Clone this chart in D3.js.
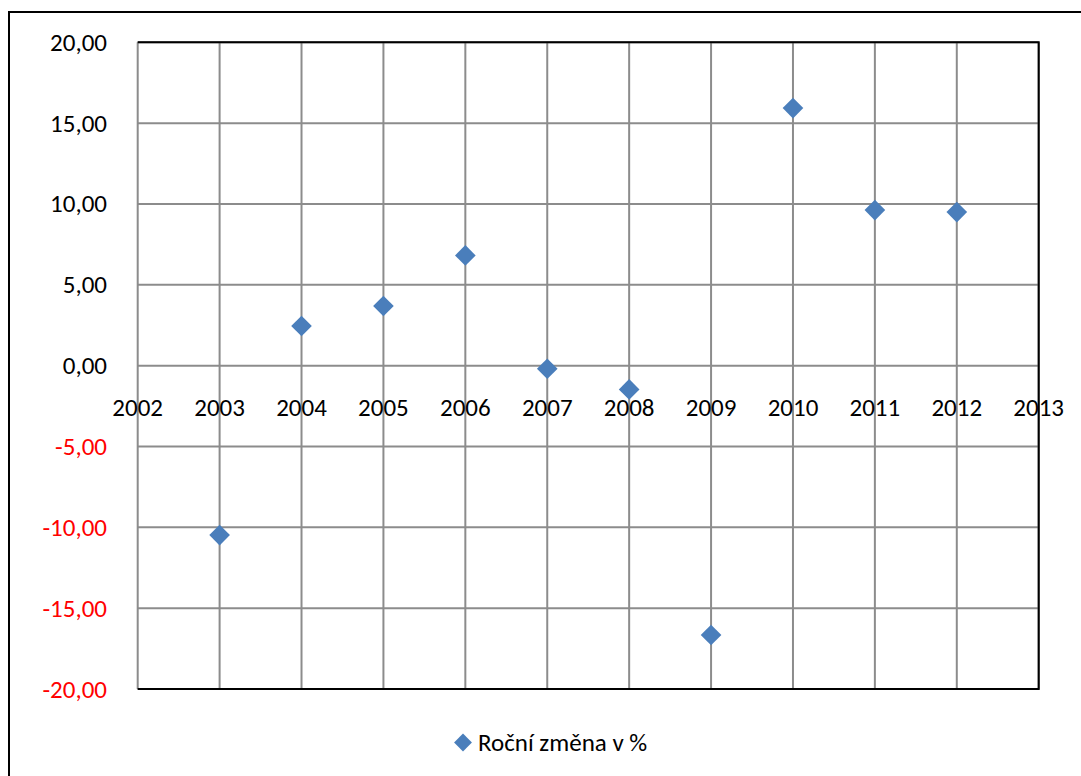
<!DOCTYPE html>
<html>
<head>
<meta charset="utf-8">
<script src="https://cdn.jsdelivr.net/npm/d3@7"></script>
<style>
  html, body { margin: 0; padding: 0; background: #fff; }
  svg { display: block; font-family: Carlito, Calibri, Lato, "Open Sans", sans-serif; }
</style>
</head>
<body>
<svg id="chart" width="1081" height="776"></svg>
<script>
// Annual change in percent, by year
const years = [2003, 2004, 2005, 2006, 2007, 2008, 2009, 2010, 2011, 2012];
const values = [-10.48, 2.45, 3.69, 6.82, -0.19, -1.47, -16.66, 15.93, 9.62, 9.50];
const xTicks = [2002, 2003, 2004, 2005, 2006, 2007, 2008, 2009, 2010, 2011, 2012, 2013];
const yTicks = [-20, -15, -10, -5, 0, 5, 10, 15, 20];
const seriesName = "Roční změna v %";

const svg = d3.select("#chart");
const plotL = 137.7, plotR = 1038.7, plotT = 42.3, plotB = 689;
const fontSize = 25;

const x = d3.scaleLinear().domain([2002, 2013]).range([plotL, plotR]);
const y = d3.scaleLinear().domain([-20, 20]).range([plotB, plotT]);
const fmt = v => d3.format(".2f")(v).replace(".", ",").replace("−", "-");

// outer frame
svg.append("rect")
  .attr("x", 9).attr("y", 12).attr("width", 1100).attr("height", 800)
  .attr("fill", "none").attr("stroke", "#000").attr("stroke-width", 2);

// grid
const grid = svg.append("g").attr("stroke", "#8c8c8c").attr("stroke-width", 2);
grid.selectAll("line.h").data(yTicks).join("line").attr("class", "h")
  .attr("x1", plotL).attr("x2", plotR)
  .attr("y1", d => y(d)).attr("y2", d => y(d));
grid.selectAll("line.v").data(xTicks).join("line").attr("class", "v")
  .attr("y1", plotT).attr("y2", plotB)
  .attr("x1", d => x(d)).attr("x2", d => x(d));

// plot border (top, right, bottom)
svg.append("path")
  .attr("d", `M${plotL},${plotT}H${plotR}V${plotB}H${plotL}`)
  .attr("fill", "none").attr("stroke", "#000").attr("stroke-width", 2);

// y tick labels
svg.append("g").selectAll("text").data(yTicks).join("text")
  .attr("x", 107).attr("y", d => y(d) + 8.5)
  .attr("text-anchor", "end")
  .attr("font-size", fontSize)
  .attr("fill", d => d < 0 ? "#ff0000" : "#000")
  .text(fmt);

// x tick labels, drawn just below the zero line
svg.append("g").selectAll("text").data(xTicks).join("text")
  .attr("x", d => x(d)).attr("y", y(0) + 50.5)
  .attr("text-anchor", "middle")
  .attr("font-size", fontSize)
  .attr("fill", "#000")
  .text(d => d);

// markers: diamonds (rotated squares)
const marks = svg.append("g");
marks.selectAll("rect").data(years.map((yr, i) => ({ yr, v: values[i] }))).join("rect")
  .attr("x", -7.3).attr("y", -7.3).attr("width", 14.6).attr("height", 14.6)
  .attr("transform", d => `translate(${x(d.yr)},${y(d.v)}) rotate(45)`)
  .attr("fill", "#4a7ebb");

// legend
const lg = svg.append("g").attr("transform", "translate(463,742.5)");
lg.append("rect")
  .attr("x", -6.3).attr("y", -6.3).attr("width", 12.6).attr("height", 12.6)
  .attr("transform", "rotate(45)").attr("fill", "#4a7ebb");
lg.append("text").attr("x", 15).attr("y", 8.5)
  .attr("font-size", fontSize).attr("fill", "#000").text(seriesName);
</script>
</body>
</html>
